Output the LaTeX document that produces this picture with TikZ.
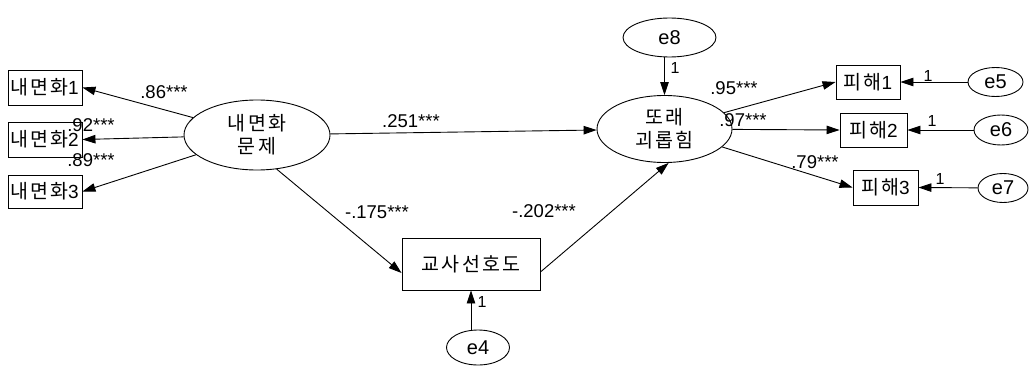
\documentclass[tikz,border=0pt]{standalone}
\usepackage{fontspec}
\setmainfont{Liberation Sans}
\newfontfamily\krfont[LetterSpace=11]{Noto Sans CJK KR}
\usetikzlibrary{arrows.meta,shapes.geometric}
\newcommand{\kr}[1]{{\krfont\fontsize{19.5}{23}\selectfont #1}}
\newcommand{\dg}[1]{{\fontsize{19}{19}\selectfont #1}}
\tikzset{
  obs/.style={draw, line width=0.9pt, inner sep=0pt, align=center},
  lat/.style={draw, ellipse, line width=0.9pt, inner sep=0pt, align=center, font=\krfont\fontsize{19.5}{23}\selectfont},
  err/.style={draw, ellipse, line width=0.9pt, inner sep=0pt, font=\fontsize{20}{20}\selectfont},
  pth/.style={line width=0.9pt, -{Triangle[length=13pt,width=8.5pt]}},
  lab/.style={inner sep=0pt, font=\fontsize{18.5}{18.5}\selectfont},
  one/.style={inner sep=0pt, font=\fontsize{16}{16}\selectfont}
}
\begin{document}
\begin{tikzpicture}[x=1pt,y=-1pt]
\useasboundingbox (0,0) rectangle (1030,367);
\fill[white] (0,0) rectangle (1030,367);
% observed boxes
\node[obs, minimum width=74pt, minimum height=35pt] (x1) at (45,87.5) {\makebox[70pt][l]{\kr{내면화}\dg{1}}};
\node[obs, minimum width=74pt, minimum height=35pt] (x2) at (45,139.5) {\makebox[70pt][l]{\kr{내면화}\dg{2}}};
\node[obs, minimum width=74pt, minimum height=33pt] (x3) at (45,191.5) {\makebox[70pt][l]{\kr{내면화}\dg{3}}};
\node[obs, minimum width=64pt, minimum height=34pt] (y1) at (868,82) {\kr{피해}\dg{1}};
\node[obs, minimum width=67pt, minimum height=34pt] (y2) at (873.5,130) {\kr{피해}\dg{2}};
\node[obs, minimum width=65pt, minimum height=35pt] (y3) at (885.5,187.5) {\kr{피해}\dg{3}};
\node[obs, minimum width=138pt, minimum height=52pt] (t) at (471,264) {\kr{교사선호도}};
% latent
\node[lat, minimum width=146pt, minimum height=70pt] (n) at (257,135) {내면화\\문제};
\node[lat, minimum width=135pt, minimum height=67pt] (b) at (664.5,129) {또래\\괴롭힘};
% errors
\node[err, minimum width=93pt, minimum height=39pt] (e8) at (669.5,37.5) {e8};
\node[err, minimum width=63pt, minimum height=35pt] (e4) at (478,347.5) {e4};
\node[err, minimum width=55pt, minimum height=29pt] (e5) at (995.5,82) {e5};
\node[err, minimum width=54pt, minimum height=30pt] (e6) at (1001,130) {e6};
\node[err, minimum width=50pt, minimum height=29pt] (e7) at (1003,188) {e7};
% paths
\draw[pth] (n) -- (x1.east);
\draw[pth] (n) -- (x2.east);
\draw[pth] (n) -- (x3.east);
\draw[pth] (n) -- (b);
\draw[pth] (n.-60) -- ([yshift=-9pt]t.west);
\draw[pth] ([yshift=-8pt]t.east) -- (b.-83);
\draw[pth] (b.north |- e8.south) -- (b.north);
\draw[pth] (t.south |- e4.north) -- (t.south);
\draw[pth] (b) -- (y1.west);
\draw[pth] (b) -- (y2.west);
\draw[pth] (b) -- (y3.west);
\draw[pth] (e5) -- (y1.east);
\draw[pth] (e6) -- (y2.east);
\draw[pth] (e7) -- (y3.east);
% labels
\node[lab] (l1) at (164,92) {.86***};
\node[lab] (l2) at (91,125) {.92***};
\node[lab] (l3) at (91,160) {.89***};
\node[lab] (l4) at (411,121) {.251***};
\node[lab] (l5) at (377,212) {-.175***};
\node[lab] (l6) at (544,211) {-.202***};
\node[lab] (l7) at (734,88) {.95***};
\node[lab] (l8) at (743,120) {.97***};
\node[lab] (l9) at (815,162) {.79***};
\node[one] (o8) at (675,68) {1};
\node[one] (o5) at (928,76) {1};
\node[one] (o6) at (932,121) {1};
\node[one] (o7) at (940,179) {1};
\node[one] (o4) at (482,302) {1};
\end{tikzpicture}
\end{document}
